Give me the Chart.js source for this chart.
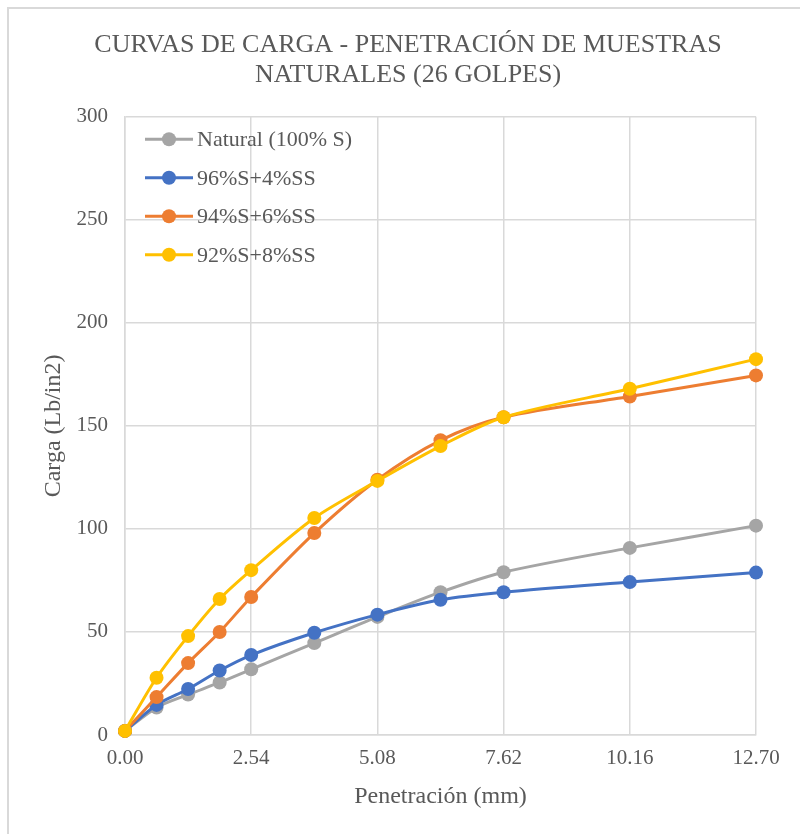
<!DOCTYPE html>
<html>
<head>
<meta charset="utf-8">
<script src="https://cdn.jsdelivr.net/npm/chart.js@4"></script>
<style>
  html, body { margin: 0; padding: 0; background: #fff; overflow: hidden; }
  #wrap { position: relative; width: 800px; height: 834px; }
  #frame { position: absolute; left: 7px; top: 7px; width: 900px; height: 900px;
           border: 2px solid #d9d9d9; pointer-events: none; }
</style>
</head>
<body>
<div id="wrap">
  <canvas id="chart" width="800" height="834"></canvas>
  <div id="frame"></div>
</div>
<script>
// penetration (mm) and load (Lb/in2)
const penetracion = [0, 0.635, 1.27, 1.905, 2.54, 3.81, 5.08, 6.35, 7.62, 10.16, 12.70];
const xTicks = [0, 2.54, 5.08, 7.62, 10.16, 12.70];

const natural100 = [2, 13.3, 19.6, 25.5, 31.9, 44.6, 57.3, 69.3, 79.0, 90.8, 101.6];
const mezcla96   = [2, 14.6, 22.3, 31.3, 38.8, 49.6, 58.4, 65.6, 69.3, 74.2, 78.8];
const mezcla94   = [2, 18.4, 34.9, 50.0, 67.0, 98.0, 123.9, 143.0, 154.2, 164.3, 174.5];
const mezcla92   = [2, 27.8, 48.0, 66.0, 80.0, 105.3, 123.3, 140.2, 154.2, 168.0, 182.4];

const seriesNames = ['Natural (100% S)', '96%S+4%SS', '94%S+6%SS', '92%S+8%SS'];
const seriesColors = ['#a5a5a5', '#4472c4', '#ed7d31', '#ffc000'];

const SERIF = '"Liberation Serif", "Times New Roman", serif';
const TEXT = '#595959';
const GRID = '#d9d9d9';

function toPoints(ys) {
  return ys.map((y, i) => ({ x: penetracion[i], y }));
}

const seriesData = [natural100, mezcla96, mezcla94, mezcla92];

// Excel draws later series on top, so lower order value = drawn last
const datasets = seriesData.map((ys, i) => ({
  label: seriesNames[i],
  data: toPoints(ys),
  borderColor: seriesColors[i],
  backgroundColor: seriesColors[i],
  borderWidth: 3,
  pointRadius: 7,
  pointBorderWidth: 0,
  pointHoverRadius: 7,
  tension: 0.3,
  fill: false,
  clip: false,
  order: seriesData.length - i,
}));

// legend drawn inside the plot area, top-left, like the Excel one
const insideLegend = {
  id: 'insideLegend',
  afterDatasetsDraw(chart) {
    const { ctx, chartArea } = chart;
    ctx.save();
    ctx.font = '22px ' + SERIF;
    ctx.textBaseline = 'middle';
    ctx.textAlign = 'left';
    seriesNames.forEach((name, i) => {
      const y = chartArea.top + 22.5 + i * 38.5;
      const x0 = chartArea.left + 20;
      ctx.strokeStyle = seriesColors[i];
      ctx.lineWidth = 3;
      ctx.beginPath();
      ctx.moveTo(x0, y);
      ctx.lineTo(x0 + 48, y);
      ctx.stroke();
      ctx.fillStyle = seriesColors[i];
      ctx.beginPath();
      ctx.arc(x0 + 24, y, 7, 0, Math.PI * 2);
      ctx.fill();
      ctx.fillStyle = TEXT;
      ctx.fillText(name, x0 + 52, y + 1);
    });
    ctx.restore();
  },
};

new Chart(document.getElementById('chart'), {
  type: 'line',
  data: { datasets },
  plugins: [insideLegend],
  options: {
    responsive: false,
    animation: false,
    layout: { padding: { left: 16, right: 0, top: 0, bottom: 0 } },
    plugins: {
      legend: { display: false },
      tooltip: { enabled: false },
      title: {
        display: true,
        text: ['CURVAS DE CARGA - PENETRACIÓN DE MUESTRAS', 'NATURALES (26 GOLPES)'],
        color: TEXT,
        font: { family: SERIF, size: 26, weight: 'normal', lineHeight: 1.15 },
        padding: { top: 30, bottom: 27 },
      },
    },
    scales: {
      x: {
        type: 'linear',
        min: 0,
        max: 12.7,
        afterBuildTicks: (scale) => { scale.ticks = xTicks.map(v => ({ value: v })); },
        afterFit: (scale) => { scale.height = 99; scale.paddingRight = 44; },
        ticks: {
          color: TEXT,
          font: { family: SERIF, size: 21 },
          padding: 11,
          maxRotation: 0,
          callback: (v) => Number(v).toFixed(2),
        },
        grid: { color: GRID, lineWidth: 1.5, drawTicks: false },
        border: { color: GRID, width: 1.5 },
        title: {
          display: true,
          text: 'Penetración (mm)',
          color: TEXT,
          font: { family: SERIF, size: 24 },
          padding: { top: 0, bottom: 23 },
        },
      },
      y: {
        min: 0,
        max: 300,
        afterFit: (scale) => { scale.width = 109; },
        ticks: {
          stepSize: 50,
          color: TEXT,
          font: { family: SERIF, size: 21 },
          padding: 17,
        },
        grid: { color: GRID, lineWidth: 1.5, drawTicks: false },
        border: { color: GRID, width: 1.5 },
        title: {
          display: true,
          text: 'Carga (Lb/in2)',
          color: TEXT,
          font: { family: SERIF, size: 24 },
          padding: { top: 23, bottom: 0 },
        },
      },
    },
  },
});
</script>
</body>
</html>
